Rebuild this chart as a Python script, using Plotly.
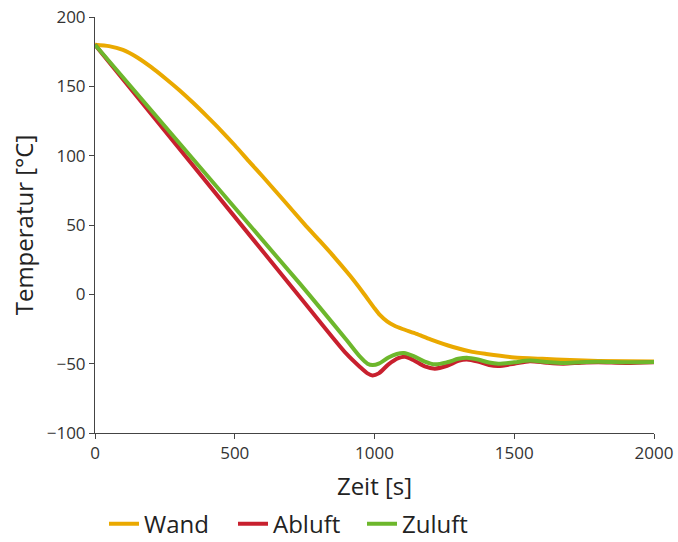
import plotly.graph_objects as go

# Time points [s] and temperatures [°C]
t_wand = [0, 50, 100, 150, 200, 250, 300, 350, 400, 450, 500, 555, 600, 674, 750, 800, 850, 912, 960, 1000, 1020, 1045, 1070, 1100, 1150, 1200, 1281, 1350, 1400, 1500, 1600, 1700, 1800, 2000]
wand = [180, 179, 176.3, 171, 164, 156, 147.5, 138.3, 128.5, 118.3, 107.5, 95, 85, 68, 50.5, 39.5, 28.3, 13.5, 1, -10, -15, -19.5, -22.5, -25, -28.5, -32.5, -38, -41.5, -43, -45.5, -46.5, -47.3, -48, -48.5]

t_abluft = [0, 733, 900, 948, 975, 993, 1015, 1050, 1085, 1109, 1140, 1180, 1216, 1260, 1300, 1330, 1370, 1410, 1443, 1500, 1556, 1615, 1675, 1740, 1800, 1900, 2000]
abluft = [180, -1.9, -43, -52.4, -57, -58.5, -57, -50.5, -46, -45, -47.5, -52, -53.6, -51.5, -48, -47, -48.5, -51, -51.7, -50, -48.2, -49.3, -50, -49.3, -49, -49.5, -49]

t_zuluft = [0, 733, 900, 948, 975, 993, 1015, 1050, 1080, 1105, 1140, 1180, 1216, 1260, 1300, 1330, 1370, 1410, 1443, 1500, 1556, 1615, 1675, 1740, 1800, 1900, 2000]
zuluft = [180, 7.7, -33, -45, -50, -51, -50, -45.5, -43, -42.3, -44.5, -48.5, -50.5, -49, -46.5, -45.7, -47, -49.2, -50, -49, -47.8, -48.8, -49.5, -48.9, -48.6, -49, -48.8]

x_ticks = [0, 500, 1000, 1500, 2000]
y_ticks = [-100, -50, 0, 50, 100, 150, 200]

fig = go.Figure()
fig.add_trace(go.Scatter(x=t_wand, y=wand, mode="lines", name="Wand",
                         line=dict(color="#EAA900", width=4, shape="spline", smoothing=0.6)))
fig.add_trace(go.Scatter(x=t_abluft, y=abluft, mode="lines", name="Abluft",
                         line=dict(color="#C8202E", width=4, shape="spline", smoothing=0.8)))
fig.add_trace(go.Scatter(x=t_zuluft, y=zuluft, mode="lines", name="Zuluft",
                         line=dict(color="#6DB72C", width=4, shape="spline", smoothing=0.8)))

axis_common = dict(showgrid=False, zeroline=False, showline=True, linecolor="#444444", linewidth=1,
                   ticks="outside", ticklen=5, tickcolor="#444444", automargin=False,
                   tickfont=dict(family="Open Sans", size=17, color="#333333"))

fig.update_layout(
    width=678, height=542,
    paper_bgcolor="white", plot_bgcolor="white",
    margin=dict(l=95, r=24, t=17, b=109, autoexpand=False),
    font=dict(family="Open Sans", color="#222222"),
    xaxis=dict(range=[0, 2000], tickvals=x_ticks,
               title=dict(text="Zeit [s]", font=dict(size=24, family="Open Sans"), standoff=14),
               **axis_common),
    yaxis=dict(range=[-100, 200], tickvals=y_ticks,
               title=dict(text="Temperatur [°C]", font=dict(size=24, family="Open Sans"), standoff=6),
               **axis_common),
    legend=dict(orientation="h", x=0.0161, xanchor="left", y=-0.219, yanchor="middle",
                font=dict(size=24, family="Open Sans", color="#222222"),
                itemwidth=30, tracegroupgap=0, entrywidth=84),
    showlegend=True,
)

fig.write_html("out.html", config={"displayModeBar": False},
               post_script="document.body.style.margin='0';")
